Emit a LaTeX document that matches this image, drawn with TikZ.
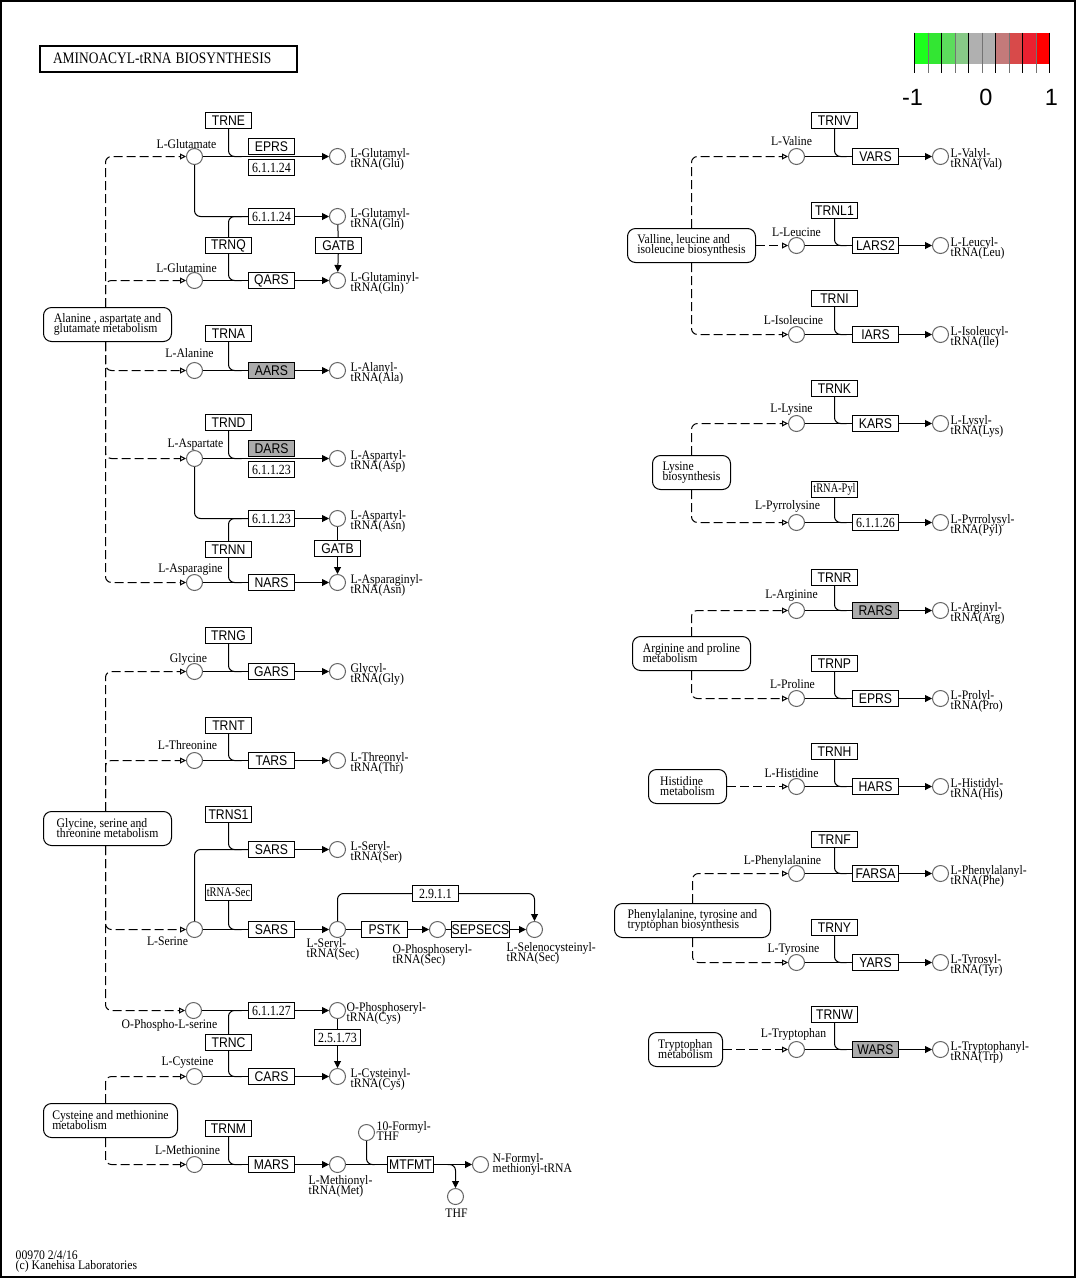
\documentclass[tikz,border=0pt]{standalone}
\usepackage{fontspec}
\setmainfont{Liberation Serif}
\newfontfamily\sansf{Liberation Sans}
\newfontfamily\kgserif[FakeStretch=0.9]{Liberation Serif}
\newfontfamily\ecserif[FakeStretch=0.85]{Liberation Serif}
\newfontfamily\trnaserif[FakeStretch=0.8]{Liberation Serif}
\newfontfamily\titleserif[FakeStretch=0.84]{Liberation Serif}
\newfontfamily\genesans[FakeStretch=0.87]{Liberation Sans}
\usetikzlibrary{arrows.meta}

\definecolor{kgray}{HTML}{ABABAB}
\definecolor{lgA}{HTML}{1CFF1C}
\definecolor{lgB}{HTML}{33E633}
\definecolor{lgC}{HTML}{5CDC5C}
\definecolor{lgD}{HTML}{87C987}
\definecolor{lgE}{HTML}{B0B0B0}
\definecolor{lgF}{HTML}{B0B0B0}
\definecolor{lgG}{HTML}{C47A7A}
\definecolor{lgH}{HTML}{D84A4A}
\definecolor{lgI}{HTML}{EA2030}
\definecolor{lgJ}{HTML}{FF0000}

\newcommand\genef{\genesans\fontsize{14}{14}\selectfont}
\newcommand\ecf{\ecserif\fontsize{14}{14}\selectfont}
\newcommand\trnaf{\trnaserif\fontsize{13}{13}\selectfont}
\newcommand\lblf{\kgserif\fontsize{13}{10}\selectfont}
\newcommand\kgtwo[2]{\vtop{\baselineskip=10pt\lineskiplimit=-20pt\hbox{#1}\hbox{#2}}}

\tikzset{
  gene/.style={draw, line width=1pt, fill=white, minimum width=46pt,
    minimum height=16pt, inner sep=0pt, font=\genef},
  hit/.style={gene, fill=kgray},
  ecbox/.style={gene, font=\ecf},
  trnabox/.style={gene, font=\trnaf},
  cpd/.style={circle, draw=black!60, line width=1pt, fill=white,
    minimum size=16pt, inner sep=0pt},
  mapbox/.style={draw, rounded corners=8pt, line width=1pt, fill=white,
    inner sep=0pt, font=\lblf},
  lbl/.style={inner sep=0pt, font=\lblf, anchor=base},
  lblw/.style={inner sep=0pt, font=\lblf, anchor=base west},
  ln/.style={line width=1pt},
  rx/.style={line width=1pt, -{Triangle[length=7pt,width=7pt]}},
  tlink/.style={line width=1pt, rounded corners=6pt},
  maplink/.style={line width=1pt, dash pattern=on 9pt off 4pt,
    rounded corners=6pt, -{Triangle[open,length=6pt,width=6pt]}},
}

\begin{document}
\begin{tikzpicture}[x=1pt, y=-1pt]
\useasboundingbox (0,0) rectangle (1076,1278);
\fill[white] (0,0) rectangle (1076,1278);
\draw[line width=2pt] (1,1) rectangle (1075,1277);

% half-pixel offset keeps one-pixel strokes sharp
\begin{scope}[shift={(0.5,0.5)}]

% ---------- title and colour key ----------
\node[draw, line width=2pt, minimum width=257pt, minimum height=26pt,
  inner xsep=13pt, inner ysep=0pt, text width=231pt, align=left,
  font=\titleserif\fontsize{16}{16}\selectfont] (title) at (168,58)
  {AMINOACYL-tRNA\hspace{4pt}BIOSYNTHESIS};

\foreach \c [count=\i from 0] in {lgA,lgB,lgC,lgD,lgE,lgF,lgG,lgH,lgI,lgJ}
  \fill[\c] (914+13.5*\i,32) rectangle (927.5+13.5*\i,63);
\foreach \i in {0,2,...,10}
  \draw[line width=1pt, black] (914+13.5*\i,32) -- (914+13.5*\i,72);
\foreach \i in {1,3,...,9}
  \draw[line width=1pt, black!55] (914+13.5*\i,32) -- (914+13.5*\i,72);
\node[inner sep=0pt, anchor=base, font=\sansf\fontsize{23.5}{23.5}\selectfont] (kmin) at (912,105) {-1};
\node[inner sep=0pt, anchor=base, font=\sansf\fontsize{23.5}{23.5}\selectfont] (kmid) at (985.5,105) {0};
\node[inner sep=0pt, anchor=base, font=\sansf\fontsize{23.5}{23.5}\selectfont] (kmax) at (1051,105) {1};

% ---------- glutamate / glutamine ----------
\node[mapbox, minimum width=128pt, minimum height=34pt] (amap) at (107,324)
  {\kgtwo{Alanine , aspartate and}{glutamate metabolism}};
\node[cpd] (glu) at (194,156) {};
\node[cpd] (gluGlu) at (337,156) {};
\node[cpd] (gluGln) at (337,216) {};
\node[cpd] (gln) at (194,280) {};
\node[cpd] (glnGln) at (337,280) {};
\node[gene] (trne) at (228,120) {TRNE};
\node[gene] (eprs) at (271,146) {EPRS};
\node[ecbox] (ecGa) at (271,167) {6.1.1.24};
\node[ecbox] (ecGb) at (271,216) {6.1.1.24};
\node[gene] (trnq) at (228,245) {TRNQ};
\node[gene] (qars) at (271,280) {QARS};
\node[gene] (gatbA) at (338,245) {GATB};
\node[lbl] (tGlu) at (186,148) {L-Glutamate};
\node[lbl] (tGln) at (186,272) {L-Glutamine};
\node[lblw] (tGluGlu) at (350,157) {\kgtwo{L-Glutamyl-}{tRNA(Glu)}};
\node[lblw] (tGluGln) at (350,217) {\kgtwo{L-Glutamyl-}{tRNA(Gln)}};
\node[lblw] (tGlnGln) at (350,281) {\kgtwo{L-Glutaminyl-}{tRNA(Gln)}};

\draw[rx] (glu) -- (gluGlu);
\coordinate (jE) at (241,156);
\draw[tlink] (trne) |- (jE);
\draw[tlink] (glu) |- (ecGb);
\draw[rx] (ecGb) -- (gluGln);
\coordinate (jQa) at (241,216);
\coordinate (jQb) at (241,280);
\draw[tlink] (trnq) |- (jQa);
\draw[tlink] (trnq) |- (jQb);
\draw[ln] (gln) -- (qars);
\draw[rx] (qars) -- (glnGln);
\draw[ln] (gluGln) -- (gatbA);
\draw[rx] (gatbA) -- (glnGln);

% ---------- alanine ----------
\node[cpd] (ala) at (194,370) {};
\node[cpd] (alaAla) at (337,370) {};
\node[gene] (trna) at (228,333) {TRNA};
\node[hit] (aars) at (271,370) {AARS};
\node[lbl] (tAla) at (189,357) {L-Alanine};
\node[lblw] (tAlaAla) at (350,371) {\kgtwo{L-Alanyl-}{tRNA(Ala)}};
\draw[ln] (ala) -- (aars);
\draw[rx] (aars) -- (alaAla);
\coordinate (jA) at (241,370);
\draw[tlink] (trna) |- (jA);

% ---------- aspartate / asparagine ----------
\node[cpd] (asp) at (194,458) {};
\node[cpd] (aspAsp) at (337,458) {};
\node[cpd] (asnAsp) at (337,518) {};
\node[cpd] (asn) at (194,582) {};
\node[cpd] (asnAsn) at (337,582) {};
\node[gene] (trnd) at (228,422) {TRND};
\node[hit] (dars) at (271,448) {DARS};
\node[ecbox] (ecDa) at (271,469) {6.1.1.23};
\node[ecbox] (ecDb) at (271,518) {6.1.1.23};
\node[gene] (trnn) at (228,549) {TRNN};
\node[gene] (nars) at (271,582) {NARS};
\node[gene] (gatbB) at (337,548) {GATB};
\node[lbl] (tAsp) at (195,447) {L-Aspartate};
\node[lbl] (tAsn) at (190,572) {L-Asparagine};
\node[lblw] (tAspAsp) at (350,459) {\kgtwo{L-Aspartyl-}{tRNA(Asp)}};
\node[lblw] (tAsnAsp) at (350,519) {\kgtwo{L-Aspartyl-}{tRNA(Asn)}};
\node[lblw] (tAsnAsn) at (350,583) {\kgtwo{L-Asparaginyl-}{tRNA(Asn)}};

\draw[rx] (asp) -- (aspAsp);
\coordinate (jD) at (241,458);
\draw[tlink] (trnd) |- (jD);
\draw[tlink] (asp) |- (ecDb);
\draw[rx] (ecDb) -- (asnAsp);
\coordinate (jNa) at (241,518);
\coordinate (jNb) at (241,582);
\draw[tlink] (trnn) |- (jNa);
\draw[tlink] (trnn) |- (jNb);
\draw[ln] (asn) -- (nars);
\draw[rx] (nars) -- (asnAsn);
\draw[ln] (asnAsp) -- (gatbB);
\draw[rx] (gatbB) -- (asnAsn);

\draw[maplink] ([xshift=-2pt]amap.north) |- (glu);
\draw[maplink] ([xshift=-2pt]amap.north) |- (gln);
\draw[maplink] ([xshift=-2pt]amap.south) |- (ala);
\draw[maplink] ([xshift=-2pt]amap.south) |- (asp);
\draw[maplink] ([xshift=-2pt]amap.south) |- (asn);

% ---------- glycine / threonine / serine ----------
\node[mapbox, minimum width=128pt, minimum height=34pt] (gmap) at (107,828)
  {\kgtwo{Glycine, serine and}{threonine metabolism}};
\node[cpd] (gly) at (194,671) {};
\node[cpd] (glyGly) at (337,671) {};
\node[gene] (trng) at (228,635) {TRNG};
\node[gene] (gars) at (271,671) {GARS};
\node[lbl] (tGly) at (188,662) {Glycine};
\node[lblw] (tGlyGly) at (350,672) {\kgtwo{Glycyl-}{tRNA(Gly)}};
\draw[ln] (gly) -- (gars);
\draw[rx] (gars) -- (glyGly);
\coordinate (jG) at (241,671);
\draw[tlink] (trng) |- (jG);

\node[cpd] (thr) at (194,760) {};
\node[cpd] (thrThr) at (337,760) {};
\node[gene] (trnt) at (228,725) {TRNT};
\node[gene] (tars) at (271,760) {TARS};
\node[lbl] (tThr) at (187,749) {L-Threonine};
\node[lblw] (tThrThr) at (350,761) {\kgtwo{L-Threonyl-}{tRNA(Thr)}};
\draw[ln] (thr) -- (tars);
\draw[rx] (tars) -- (thrThr);
\coordinate (jT) at (241,760);
\draw[tlink] (trnt) |- (jT);

\node[cpd] (ser) at (194,929) {};
\node[cpd] (serSer) at (337,849) {};
\node[gene] (trns) at (228,814) {TRNS1};
\node[gene] (sarsA) at (271,849) {SARS};
\node[trnabox] (trnsec) at (228,892) {tRNA-Sec};
\node[gene] (sarsB) at (271,929) {SARS};
\node[cpd] (serSec) at (337,929) {};
\node[gene] (pstk) at (384,929) {PSTK};
\node[cpd] (opsSec) at (437,929) {};
\node[gene] (sepsecs) at (480,929) {SEPSECS};
\node[cpd] (selcys) at (534,929) {};
\node[ecbox] (ecSel) at (435,893) {2.9.1.1};
\node[lbl] (tSer) at (167,945) {L-Serine};
\node[lblw] (tSerSer) at (350,850) {\kgtwo{L-Seryl-}{tRNA(Ser)}};
\node[lblw] (tSerSec) at (306,947) {\kgtwo{L-Seryl-}{tRNA(Sec)}};
\node[lblw] (tOpsSec) at (392,953) {\kgtwo{O-Phosphoseryl-}{tRNA(Sec)}};
\node[lblw] (tSelcys) at (506,951) {\kgtwo{L-Selenocysteinyl-}{tRNA(Sec)}};

\draw[ln] (ser) -- (sarsB);
\draw[rx] (sarsB) -- (serSec);
\draw[tlink] (ser) |- (sarsA);
\draw[rx] (sarsA) -- (serSer);
\coordinate (jSa) at (241,849);
\coordinate (jSb) at (241,929);
\draw[tlink] (trns) |- (jSa);
\draw[tlink] (trnsec) |- (jSb);
\draw[ln] (serSec) -- (pstk);
\draw[rx] (pstk) -- (opsSec);
\draw[ln] (opsSec) -- (sepsecs);
\draw[rx] (sepsecs) -- (selcys);
\draw[tlink] (serSec) |- (ecSel);
\draw[rx, rounded corners=6pt] (ecSel) -| (selcys);

% ---------- O-phosphoserine / cysteine ----------
\node[cpd] (ops) at (193,1010) {};
\node[cpd] (opsCys) at (337,1010) {};
\node[ecbox] (ecCys) at (271,1010) {6.1.1.27};
\node[gene] (trnc) at (228,1042) {TRNC};
\node[cpd] (cys) at (194,1076) {};
\node[gene] (cars) at (271,1076) {CARS};
\node[cpd] (cysCys) at (337,1076) {};
\node[ecbox] (ecSep) at (337,1037) {2.5.1.73};
\node[lbl] (tOps) at (169,1028) {O-Phospho-L-serine};
\node[lbl] (tCys) at (187,1065) {L-Cysteine};
\node[lblw] (tOpsCys) at (346,1011) {\kgtwo{O-Phosphoseryl-}{tRNA(Cys)}};
\node[lblw] (tCysCys) at (350,1077) {\kgtwo{L-Cysteinyl-}{tRNA(Cys)}};

\draw[ln] (ops) -- (ecCys);
\draw[rx] (ecCys) -- (opsCys);
\coordinate (jCa) at (241,1010);
\coordinate (jCb) at (241,1076);
\draw[tlink] (trnc) |- (jCa);
\draw[tlink] (trnc) |- (jCb);
\draw[ln] (cys) -- (cars);
\draw[rx] (cars) -- (cysCys);
\draw[ln] (opsCys) -- (ecSep);
\draw[rx] (ecSep) -- (cysCys);

\draw[maplink] ([xshift=-2pt]gmap.north) |- (gly);
\draw[maplink] ([xshift=-2pt]gmap.north) |- (thr);
\draw[maplink] ([xshift=-2pt]gmap.south) |- (ser);
\draw[maplink] ([xshift=-2pt]gmap.south) |- (ops);

% ---------- methionine ----------
\node[mapbox, minimum width=134pt, minimum height=34pt] (cmap) at (110,1120)
  {\kgtwo{Cysteine and methionine}{metabolism}};
\node[cpd] (met) at (194,1164) {};
\node[gene] (trnm) at (228,1128) {TRNM};
\node[gene] (mars) at (271,1164) {MARS};
\node[cpd] (metMet) at (337,1164) {};
\node[cpd] (fthf) at (366,1132) {};
\node[gene] (mtfmt) at (410,1164) {MTFMT};
\node[cpd] (fmet) at (480,1164) {};
\node[cpd] (thf) at (455,1196) {};
\node[lbl] (tMet) at (187,1154) {L-Methionine};
\node[lblw] (tMetMet) at (308,1184) {\kgtwo{L-Methionyl-}{tRNA(Met)}};
\node[lblw] (tFthf) at (376,1130) {\kgtwo{10-Formyl-}{THF}};
\node[lblw] (tFmet) at (492,1162) {\kgtwo{N-Formyl-}{methionyl-tRNA}};
\node[lbl] (tThf) at (456,1217) {THF};

\draw[ln] (met) -- (mars);
\draw[rx] (mars) -- (metMet);
\coordinate (jM) at (241,1164);
\draw[tlink] (trnm) |- (jM);
\draw[ln] (metMet) -- (mtfmt);
\draw[rx] (mtfmt) -- (fmet);
\coordinate (jF) at (374,1164);
\draw[tlink] (fthf) |- (jF);
\coordinate (jH) at (447,1164);
\draw[rx, rounded corners=6pt] (jH) -| (thf);

\draw[maplink] ([xshift=-5pt]cmap.north) |- (cys);
\draw[maplink] ([xshift=-5pt]cmap.south) |- (met);

\node[lblw] (foot) at (15,1259) {\kgtwo{00970 2/4/16}{(c) Kanehisa Laboratories}};

% ---------- valine / leucine / isoleucine ----------
\node[mapbox, minimum width=128pt, minimum height=34pt] (vmap) at (691,245)
  {\kgtwo{Valline, leucine and}{isoleucine biosynthesis}};
\node[cpd] (val) at (796,156) {};
\node[gene] (trnv) at (834,120) {TRNV};
\node[gene] (vars) at (875,156) {VARS};
\node[cpd] (valVal) at (940,156) {};
\node[cpd] (leu) at (796,245) {};
\node[gene] (trnl) at (834,210) {TRNL1};
\node[gene] (lars) at (875,245) {LARS2};
\node[cpd] (leuLeu) at (940,245) {};
\node[cpd] (ile) at (796,334) {};
\node[gene] (trni) at (834,298) {TRNI};
\node[gene] (iars) at (875,334) {IARS};
\node[cpd] (ileIle) at (940,334) {};
\node[lbl] (tVal) at (791,145) {L-Valine};
\node[lbl] (tLeu) at (796,236) {L-Leucine};
\node[lbl] (tIle) at (793,324) {L-Isoleucine};
\node[lblw] (tValVal) at (950,157) {\kgtwo{L-Valyl-}{tRNA(Val)}};
\node[lblw] (tLeuLeu) at (950,246) {\kgtwo{L-Leucyl-}{tRNA(Leu)}};
\node[lblw] (tIleIle) at (950,335) {\kgtwo{L-Isoleucyl-}{tRNA(Ile)}};

% ---------- lysine / pyrrolysine ----------
\node[mapbox, minimum width=78pt, minimum height=34pt] (lmap) at (691,472)
  {\kgtwo{Lysine}{biosynthesis}};
\node[cpd] (lys) at (796,423) {};
\node[gene] (trnk) at (834,388) {TRNK};
\node[gene] (kars) at (875,423) {KARS};
\node[cpd] (lysLys) at (940,423) {};
\node[cpd] (pyl) at (796,522) {};
\node[trnabox] (trnpyl) at (834,489) {tRNA-Pyl};
\node[ecbox] (ecPyl) at (875,522) {6.1.1.26};
\node[cpd] (pylPyl) at (940,522) {};
\node[lbl] (tLys) at (791,412) {L-Lysine};
\node[lbl] (tPyl) at (787,509) {L-Pyrrolysine};
\node[lblw] (tLysLys) at (950,424) {\kgtwo{L-Lysyl-}{tRNA(Lys)}};
\node[lblw] (tPylPyl) at (950,523) {\kgtwo{L-Pyrrolysyl-}{tRNA(Pyl)}};

% ---------- arginine / proline ----------
\node[mapbox, minimum width=118pt, minimum height=34pt] (apmap) at (691,653)
  {\kgtwo{Arginine and proline}{metabolism}};
\node[cpd] (arg) at (796,610) {};
\node[gene] (trnr) at (834,577) {TRNR};
\node[hit] (rars) at (875,610) {RARS};
\node[cpd] (argArg) at (940,610) {};
\node[cpd] (pro) at (796,698) {};
\node[gene] (trnp) at (834,663) {TRNP};
\node[gene] (eprsB) at (875,698) {EPRS};
\node[cpd] (proPro) at (940,698) {};
\node[lbl] (tArg) at (791,598) {L-Arginine};
\node[lbl] (tPro) at (792,688) {L-Proline};
\node[lblw] (tArgArg) at (950,611) {\kgtwo{L-Arginyl-}{tRNA(Arg)}};
\node[lblw] (tProPro) at (950,699) {\kgtwo{L-Prolyl-}{tRNA(Pro)}};

% ---------- histidine ----------
\node[mapbox, minimum width=78pt, minimum height=34pt] (hmap) at (687,786)
  {\kgtwo{Histidine}{metabolism}};
\node[cpd] (his) at (796,786) {};
\node[gene] (trnh) at (834,751) {TRNH};
\node[gene] (hars) at (875,786) {HARS};
\node[cpd] (hisHis) at (940,786) {};
\node[lbl] (tHis) at (791,777) {L-Histidine};
\node[lblw] (tHisHis) at (950,787) {\kgtwo{L-Histidyl-}{tRNA(His)}};

% ---------- phenylalanine / tyrosine ----------
\node[mapbox, minimum width=156pt, minimum height=34pt] (pmap) at (692,920)
  {\kgtwo{Phenylalanine, tyrosine and}{tryptophan biosynthesis}};
\node[cpd] (phe) at (796,873) {};
\node[gene] (trnf) at (834,839) {TRNF};
\node[gene] (farsa) at (875,873) {FARSA};
\node[cpd] (phePhe) at (940,873) {};
\node[cpd] (tyr) at (796,962) {};
\node[gene] (trny) at (834,927) {TRNY};
\node[gene] (yars) at (875,962) {YARS};
\node[cpd] (tyrTyr) at (940,962) {};
\node[lbl] (tPhe) at (782,864) {L-Phenylalanine};
\node[lbl] (tTyr) at (793,952) {L-Tyrosine};
\node[lblw] (tPhePhe) at (950,874) {\kgtwo{L-Phenylalanyl-}{tRNA(Phe)}};
\node[lblw] (tTyrTyr) at (950,963) {\kgtwo{L-Tyrosyl-}{tRNA(Tyr)}};

% ---------- tryptophan ----------
\node[mapbox, minimum width=74pt, minimum height=34pt] (wmap) at (685,1049)
  {\kgtwo{Tryptophan}{metabolism}};
\node[cpd] (trp) at (796,1049) {};
\node[gene] (trnw) at (834,1014) {TRNW};
\node[hit] (wars) at (875,1049) {WARS};
\node[cpd] (trpTrp) at (940,1049) {};
\node[lbl] (tTrp) at (793,1037) {L-Tryptophan};
\node[lblw] (tTrpTrp) at (950,1050) {\kgtwo{L-Tryptophanyl-}{tRNA(Trp)}};

% right-hand reactions: substrate -> enzyme -> aminoacyl-tRNA
\foreach \s/\e/\p/\t/\y in {val/vars/valVal/trnv/156, leu/lars/leuLeu/trnl/245,
    ile/iars/ileIle/trni/334, lys/kars/lysLys/trnk/423, pyl/ecPyl/pylPyl/trnpyl/522,
    arg/rars/argArg/trnr/610, pro/eprsB/proPro/trnp/698, his/hars/hisHis/trnh/786,
    phe/farsa/phePhe/trnf/873, tyr/yars/tyrTyr/trny/962, trp/wars/trpTrp/trnw/1049} {
  \draw[ln] (\s) -- (\e);
  \draw[rx] (\e) -- (\p);
  \coordinate (j\s) at (846,\y);
  \draw[tlink] (\t) |- (j\s);
}

\draw[maplink] (vmap.north) |- (val);
\draw[maplink] (vmap) -- (leu);
\draw[maplink] (vmap.south) |- (ile);
\draw[maplink] (lmap.north) |- (lys);
\draw[maplink] (lmap.south) |- (pyl);
\draw[maplink] (apmap.north) |- (arg);
\draw[maplink] (apmap.south) |- (pro);
\draw[maplink] (hmap) -- (his);
\draw[maplink] (pmap.north) |- (phe);
\draw[maplink] (pmap.south) |- (tyr);
\draw[maplink] (wmap) -- (trp);
\end{scope}
\end{tikzpicture}
\end{document}
